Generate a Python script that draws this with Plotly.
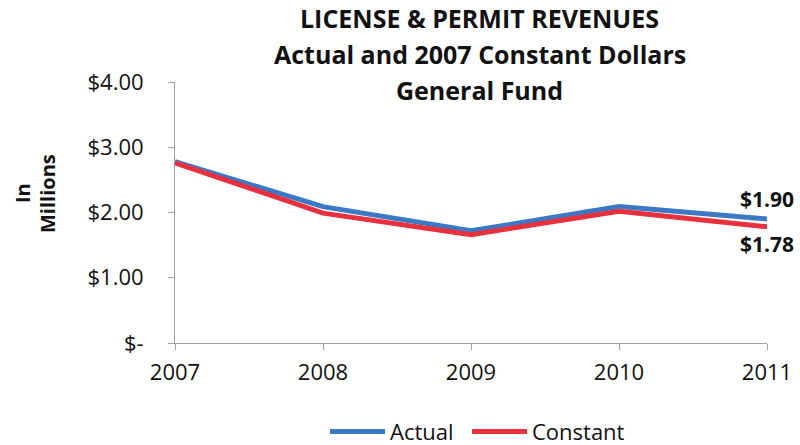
import plotly.graph_objects as go

years = [2007, 2008, 2009, 2010, 2011]
actual = [2.78, 2.09, 1.72, 2.09, 1.90]
constant = [2.76, 1.99, 1.66, 2.02, 1.78]

y_tick_vals = [0, 1, 2, 3, 4]
y_tick_text = ["$-", "$1.00", "$2.00", "$3.00", "$4.00"]

title_lines = ["LICENSE & PERMIT REVENUES", "Actual and 2007 Constant Dollars", "General Fund"]

FONT = "'Open Sans', sans-serif"
BLUE = "#3b79c6"
RED = "#e8313d"
TEXT = "#111111"
AXIS = "#a0a0a0"

fig = go.Figure()
fig.add_trace(go.Scatter(x=years, y=actual, name="Actual", mode="lines",
                         line=dict(color=BLUE, width=5), cliponaxis=False,
                         legend="legend"))
fig.add_trace(go.Scatter(x=years, y=constant, name="Constant", mode="lines",
                         line=dict(color=RED, width=5), cliponaxis=False,
                         legend="legend2"))

# End-point value labels
fig.add_annotation(x=years[-1], y=actual[-1], text=f"<b>${actual[-1]:.2f}</b>", showarrow=False,
                   xanchor="center", yanchor="middle", yshift=20,
                   font=dict(family=FONT, size=21, color=TEXT))
fig.add_annotation(x=years[-1], y=constant[-1], text=f"<b>${constant[-1]:.2f}</b>", showarrow=False,
                   xanchor="center", yanchor="middle", yshift=-17,
                   font=dict(family=FONT, size=21, color=TEXT))

# Three-line title
for i, line in enumerate(title_lines):
    fig.add_annotation(xref="paper", yref="paper", x=0.515, y=1.0, yanchor="middle",
                       yshift=64 - 36 * i, text=f"<b>{line}</b>",
                       showarrow=False, font=dict(family=FONT, size=25, color=TEXT))

# Rotated axis title in two lines
fig.add_annotation(xref="paper", yref="paper", x=0, y=0.5, xshift=-168, yshift=19,
                   text="<b>In</b>", textangle=-90, showarrow=False,
                   font=dict(family=FONT, size=20, color=TEXT))
fig.add_annotation(xref="paper", yref="paper", x=0, y=0.5, xshift=-143, yshift=19,
                   text="<b>Millions</b>", textangle=-90, showarrow=False,
                   font=dict(family=FONT, size=20, color=TEXT))

legend_style = dict(orientation="h", xanchor="left", y=-0.34, yanchor="middle",
                    font=dict(family=FONT, size=22, color=TEXT), itemwidth=55,
                    bgcolor="rgba(0,0,0,0)")

fig.update_layout(
    width=800, height=445,
    margin=dict(l=175, r=33, t=82, b=102, autoexpand=False),
    paper_bgcolor="white", plot_bgcolor="white",
    font=dict(family=FONT, size=22, color=TEXT),
    showlegend=True,
    legend=dict(x=0.2534, **legend_style),
    legend2=dict(x=0.4932, **legend_style),
    xaxis=dict(range=[2007, 2011], tickvals=years, ticktext=[str(y) for y in years],
               showgrid=False, zeroline=False, showline=True, linecolor=AXIS,
               ticks="outside", ticklen=6, tickcolor=AXIS, ticklabelstandoff=4),
    yaxis=dict(range=[0, 4], tickvals=y_tick_vals, ticktext=y_tick_text,
               showgrid=False, zeroline=False, showline=True, linecolor=AXIS,
               ticks="outside", ticklen=6, tickcolor=AXIS, ticklabelstandoff=20),
)

fig.write_html("out.html")
